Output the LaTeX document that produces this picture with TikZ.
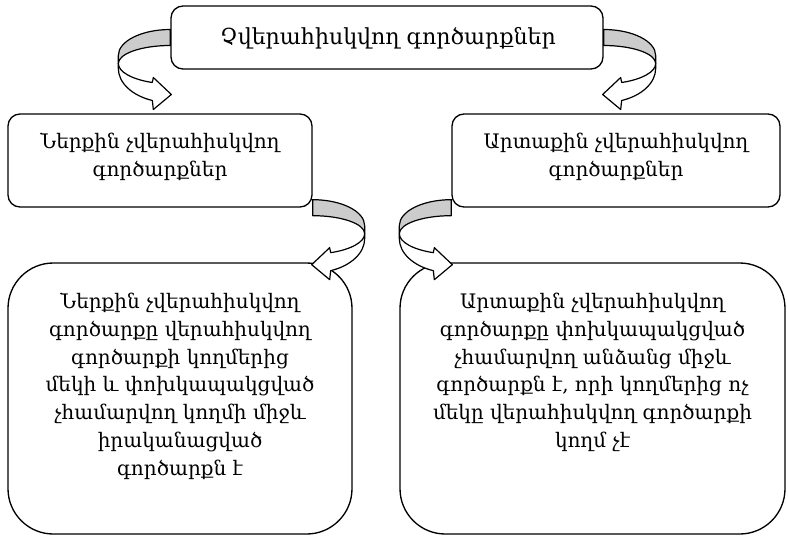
\documentclass[tikz,border=0pt]{standalone}
\usepackage{fontspec}
\setmainfont{DejaVu Serif}
\begin{document}
\begin{tikzpicture}[x=0.75pt,y=-0.75pt,
  box/.style={draw, line width=1pt, rounded corners=9pt, fill=white, inner sep=0pt},
  bigbox/.style={box, rounded corners=34pt},
  txt/.style={align=center, font=\fontsize{15}{20.8}\selectfont, inner sep=0pt},
  backband/.style={fill=gray!40, draw, line width=0.9pt, line join=round},
  frontband/.style={fill=white, draw, line width=0.9pt, line join=round},
  uturn/.pic={
    \path[backband] (0,-8) .. controls (-28.7,-8) and (-52,3.6) .. (-52,18)
       -- (-52,26) .. controls (-52,16.1) and (-28.7,8) .. (0,8) -- cycle;
    \path[frontband] (-52,26) -- (-52,31) .. controls (-52,45.3) and (-38.3,58.1) .. (-18,63)
       -- (-17,72) -- (1,57) -- (-17,40) -- (-18,45)
       .. controls (-38.3,41.9) and (-52,34.4) .. (-52,26) -- cycle;
  }]
\useasboundingbox (0,0) rectangle (788,536);

% boxes
\node[box, minimum width=324pt, minimum height=47.25pt] (top) at (387,37.5) {};
\node[box, minimum width=228pt, minimum height=69.75pt] (midL) at (160,160.5) {};
\node[box, minimum width=246pt, minimum height=69.75pt] (midR) at (616,160.5) {};
\node[bigbox, minimum width=258pt, minimum height=203.25pt] (botL) at (180,398.5) {};
\node[bigbox, minimum width=288.75pt, minimum height=203.25pt] (botR) at (592.5,398.5) {};

% texts
\node[txt, font=\fontsize{16.6}{20}\selectfont] (topT) at (388,38) {Չվերահիսկվող գործարքներ};
\node[txt] (midLT) at (160,157) {Ներքին չվերահիսկվող\\գործարքներ};
\node[txt] (midRT) at (616,157) {Արտաքին չվերահիսկվող\\գործարքներ};
\node[txt, anchor=north] (botLT) at (180,293) {Ներքին չվերահիսկվող\\գործարքը վերահիսկվող\\գործարքի կողմերից\\մեկի և փոխկապակցված\\չհամարվող կողմի միջև\\իրականացված\\գործարքն է};
\node[txt, anchor=north] (botRT) at (592.5,293) {Արտաքին չվերահիսկվող\\գործարքը փոխկապակցված\\չհամարվող անձանց միջև\\գործարքն է, որի կողմերից ոչ\\մեկը վերահիսկվող գործարքի\\կողմ չէ};

% curved arrows
\path (top.west) pic {uturn};
\path (top.east) pic[xscale=-1] {uturn};
\path (midL.south east) pic[xscale=-1] {uturn};
\path (midR.south west) pic {uturn};
\end{tikzpicture}
\end{document}
